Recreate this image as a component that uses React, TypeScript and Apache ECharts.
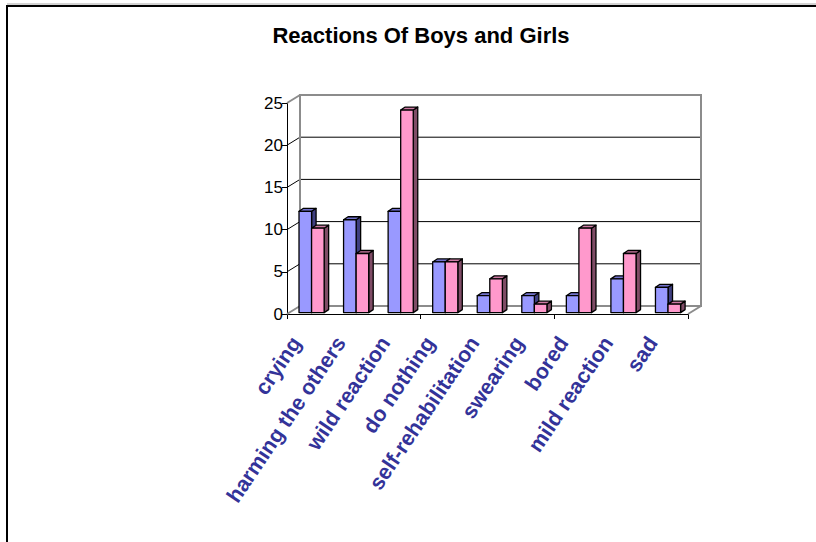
import React, { useEffect, useRef } from "react";
import * as echarts from "echarts";

// Survey categories and counts per group
const categories = [
  "crying",
  "harming the others",
  "wild reaction",
  "do nothing",
  "self-rehabilitation",
  "swearing",
  "bored",
  "mild reaction",
  "sad",
];
const boys = [12, 11, 12, 6, 2, 2, 2, 4, 3];
const girls = [10, 7, 24, 6, 4, 1, 10, 7, 1];
const yTicks = { min: 0, max: 25, interval: 5 };
const titleText = "Reactions Of Boys and Girls";

// Pseudo-3D geometry (pixels)
const BACK_DX = 13; // back wall offset from the front plane
const BACK_DY = -8;
const BAR_FX = 2.3; // bar front-face offset from the front plane
const BAR_FY = -1.4;
const BAR_DX = 4.5; // bar depth
const BAR_DY = -3;
const BAR_RATIO = 0.282; // bar width as a share of the category band
const LABEL_SHIFT = -13;

const GRID = { left: 287, top: 103, width: 401, height: 211 };

const faces = {
  boys: { front: "#9999FF", top: "#7272CC", side: "#3F3F80" },
  girls: { front: "#FF99CC", top: "#CC7AA3", side: "#7F4C66" },
};

function makeBarRenderer(which: "boys" | "girls") {
  const c = faces[which];
  return (params: any, api: any) => {
    const i = api.value(0);
    const v = api.value(1);
    const base = api.coord([i, 0]);
    const top = api.coord([i, v]);
    const band = api.size([1, 0])[0];
    const w = band * BAR_RATIO;
    const x0 = which === "boys" ? base[0] + BAR_FX - w : base[0] + BAR_FX;
    const x1 = x0 + w;
    const yb = base[1] + BAR_FY;
    const yt = top[1] + BAR_FY;
    const stroke = { stroke: "#000", lineWidth: 1.3, lineJoin: "round" };
    return {
      type: "group",
      children: [
        {
          type: "polygon",
          shape: { points: [[x1, yt], [x1 + BAR_DX, yt + BAR_DY], [x1 + BAR_DX, yb + BAR_DY], [x1, yb]] },
          style: { fill: c.side, ...stroke },
        },
        {
          type: "polygon",
          shape: { points: [[x0, yt], [x1, yt], [x1 + BAR_DX, yt + BAR_DY], [x0 + BAR_DX, yt + BAR_DY]] },
          style: { fill: c.top, ...stroke },
        },
        {
          type: "rect",
          shape: { x: x0, y: yt, width: w, height: yb - yt },
          style: { fill: c.front, ...stroke },
        },
      ],
    };
  };
}

// Back wall, floor edges and the receding gridlines
function renderWalls(params: any, api: any) {
  const cs = params.coordSys;
  const xl = cs.x;
  const xr = cs.x + cs.width;
  const gray = { stroke: "#8C8C8C", lineWidth: 2 };
  const black = { stroke: "#000", lineWidth: 1 };
  const children: any[] = [];
  const ticks: number[] = [];
  for (let t = yTicks.min; t <= yTicks.max; t += yTicks.interval) ticks.push(t);
  const yTop = api.coord([0, yTicks.max])[1];
  const yBot = api.coord([0, yTicks.min])[1];
  ticks.forEach((t) => {
    const y = api.coord([0, t])[1];
    const edge = t === yTicks.min || t === yTicks.max;
    children.push({
      type: "line",
      shape: { x1: xl, y1: y, x2: xl + BACK_DX, y2: y + BACK_DY },
      style: edge ? gray : black,
    });
    if (!edge) {
      children.push({
        type: "line",
        shape: { x1: xl + BACK_DX, y1: y + BACK_DY, x2: xr + BACK_DX, y2: y + BACK_DY },
        style: black,
      });
    }
  });
  // wall outline
  children.push({
    type: "polyline",
    shape: {
      points: [
        [xl + BACK_DX, yBot + BACK_DY],
        [xl + BACK_DX, yTop + BACK_DY],
        [xr + BACK_DX, yTop + BACK_DY],
        [xr + BACK_DX, yBot + BACK_DY],
        [xl + BACK_DX, yBot + BACK_DY],
      ],
    },
    style: { ...gray, fill: "none" },
  });
  // floor right edge
  children.push({
    type: "line",
    shape: { x1: xr, y1: yBot, x2: xr + BACK_DX, y2: yBot + BACK_DY },
    style: gray,
  });
  return { type: "group", children };
}

export default function App() {
  const ref = useRef<HTMLDivElement>(null);

  useEffect(() => {
    if (!ref.current) return;
    const chart = echarts.init(ref.current, null, { renderer: "svg" });
    const labelGrid = { ...GRID, left: GRID.left + LABEL_SHIFT };
    chart.setOption({
      animation: false,
      backgroundColor: "#fff",
      title: {
        text: titleText,
        left: 416,
        top: 19,
        textAlign: "center",
        textStyle: {
          fontFamily: "Liberation Sans, Arial, sans-serif",
          fontSize: 22,
          fontWeight: "bold",
          color: "#000",
        },
      },
      grid: [GRID, labelGrid],
      xAxis: [
        {
          type: "category",
          gridIndex: 0,
          data: categories,
          axisLine: { lineStyle: { color: "#000", width: 1 } },
          axisTick: { show: true, length: 5, lineStyle: { color: "#000" } },
          axisLabel: { show: false },
          splitLine: { show: false },
        },
        {
          type: "category",
          gridIndex: 1,
          data: categories,
          axisLine: { show: false },
          axisTick: { show: false },
          axisLabel: {
            show: true,
            interval: 0,
            rotate: 56,
            margin: 25,
            fontFamily: "Liberation Sans, Arial, sans-serif",
            fontSize: 21.5,
            fontWeight: "bold",
            color: "#333399",
          },
        },
      ],
      yAxis: [
        {
          type: "value",
          gridIndex: 0,
          min: yTicks.min,
          max: yTicks.max,
          interval: yTicks.interval,
          axisLine: { show: true, lineStyle: { color: "#000", width: 1 } },
          axisTick: { show: true, length: 5, lineStyle: { color: "#000" } },
          axisLabel: {
            margin: 4,
            fontFamily: "Liberation Sans, Arial, sans-serif",
            fontSize: 17,
            color: "#000",
          },
          splitLine: { show: false },
        },
        {
          type: "value",
          gridIndex: 1,
          min: yTicks.min,
          max: yTicks.max,
          show: false,
        },
      ],
      graphic: [
        { type: "line", shape: { x1: 7, y1: 4, x2: 816, y2: 4 }, style: { stroke: "#A6A6A6", lineWidth: 1 } },
        { type: "line", shape: { x1: 6, y1: 6, x2: 816, y2: 6 }, style: { stroke: "#000", lineWidth: 2 } },
        { type: "line", shape: { x1: 7, y1: 5, x2: 7, y2: 542 }, style: { stroke: "#000", lineWidth: 2 } },
      ],
      series: [
        {
          type: "custom",
          name: "walls",
          xAxisIndex: 0,
          yAxisIndex: 0,
          data: [[0, 0]],
          renderItem: renderWalls,
          z: 1,
          silent: true,
        },
        {
          type: "custom",
          name: "Boys",
          xAxisIndex: 0,
          yAxisIndex: 0,
          data: boys.map((v, i) => [i, v]),
          encode: { x: 0, y: 1 },
          renderItem: makeBarRenderer("boys"),
          z: 3,
        },
        {
          type: "custom",
          name: "Girls",
          xAxisIndex: 0,
          yAxisIndex: 0,
          data: girls.map((v, i) => [i, v]),
          encode: { x: 0, y: 1 },
          renderItem: makeBarRenderer("girls"),
          z: 4,
        },
      ],
    });
    return () => chart.dispose();
  }, []);

  return (
    <div
      ref={ref}
      style={{ position: "fixed", left: 0, top: 0, width: 816, height: 542 }}
    />
  );
}
